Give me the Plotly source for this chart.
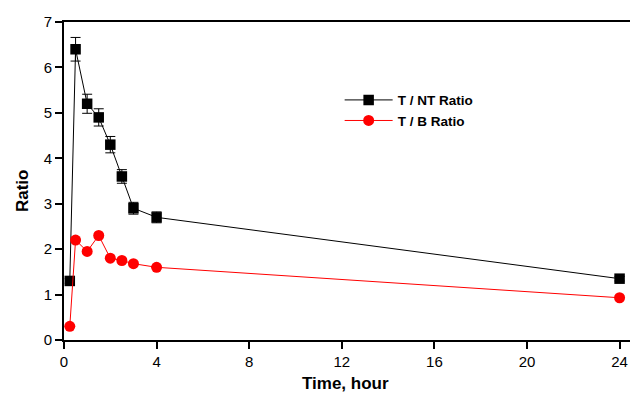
import plotly.graph_objects as go

time_h = [0.25, 0.5, 1, 1.5, 2, 2.5, 3, 4, 24]
t_nt_ratio = [1.3, 6.4, 5.2, 4.9, 4.3, 3.6, 2.9, 2.7, 1.35]
t_nt_err = [0.05, 0.26, 0.21, 0.19, 0.18, 0.15, 0.13, 0.12, 0.05]
t_b_ratio = [0.3, 2.2, 1.95, 2.3, 1.8, 1.75, 1.68, 1.6, 0.93]
t_b_err = [0.06, 0.06, 0.05, 0.06, 0.05, 0.04, 0.04, 0.04, 0.03]
x_ticks = [0, 4, 8, 12, 16, 20, 24]
y_ticks = [0, 1, 2, 3, 4, 5, 6, 7]

fig = go.Figure()
fig.add_trace(go.Scatter(
    x=time_h, y=t_nt_ratio, name="T / NT Ratio", mode="lines+markers",
    line=dict(color="black", width=1),
    marker=dict(symbol="square", size=10.5, color="black"),
    error_y=dict(type="data", array=t_nt_err, color="black", thickness=1, width=5),
))
fig.add_trace(go.Scatter(
    x=time_h, y=t_b_ratio, name="T / B Ratio", mode="lines+markers",
    line=dict(color="red", width=1),
    marker=dict(symbol="circle", size=11, color="red"),
    error_y=dict(type="data", array=t_b_err, color="red", thickness=1, width=4),
))

font_family = "Liberation Sans, Arial, sans-serif"
fig.update_layout(
    width=630, height=394,
    margin=dict(l=64, r=0, t=22, b=54, autoexpand=False),
    paper_bgcolor="white", plot_bgcolor="white",
    font=dict(family=font_family, size=15, color="black"),
    showlegend=True,
    legend=dict(x=0.487, y=0.803, xanchor="left", yanchor="top",
                font=dict(size=13.5, family=font_family, weight="bold"),
                bgcolor="rgba(0,0,0,0)", tracegroupgap=0, itemwidth=48),
    xaxis=dict(
        range=[0, 24.45], tickvals=x_ticks, showgrid=False, zeroline=False,
        showline=True, linecolor="black", linewidth=2, mirror=True,
        ticks="outside", ticklen=7, tickwidth=1.5, tickcolor="black",
        automargin=False,
    ),
    yaxis=dict(
        range=[0, 7], tickvals=y_ticks, showgrid=False, zeroline=False,
        showline=True, linecolor="black", linewidth=2, mirror=False,
        ticks="outside", ticklen=7, tickwidth=1.5, tickcolor="black",
        automargin=False,
    ),
    annotations=[
        dict(text="<b>Time, hour</b>", xref="paper", yref="paper",
             x=0.497, y=-0.1, xanchor="center", yanchor="top",
             showarrow=False, font=dict(size=17)),
        dict(text="<b>Ratio</b>", xref="paper", yref="paper",
             x=-0.053, y=0.47, xanchor="right", yanchor="middle",
             textangle=-90, showarrow=False, font=dict(size=17)),
    ],
)

fig.write_html(
    "out.html",
    config={"displayModeBar": False},
    post_script="document.body.style.margin='0';document.body.style.padding='0';",
)
